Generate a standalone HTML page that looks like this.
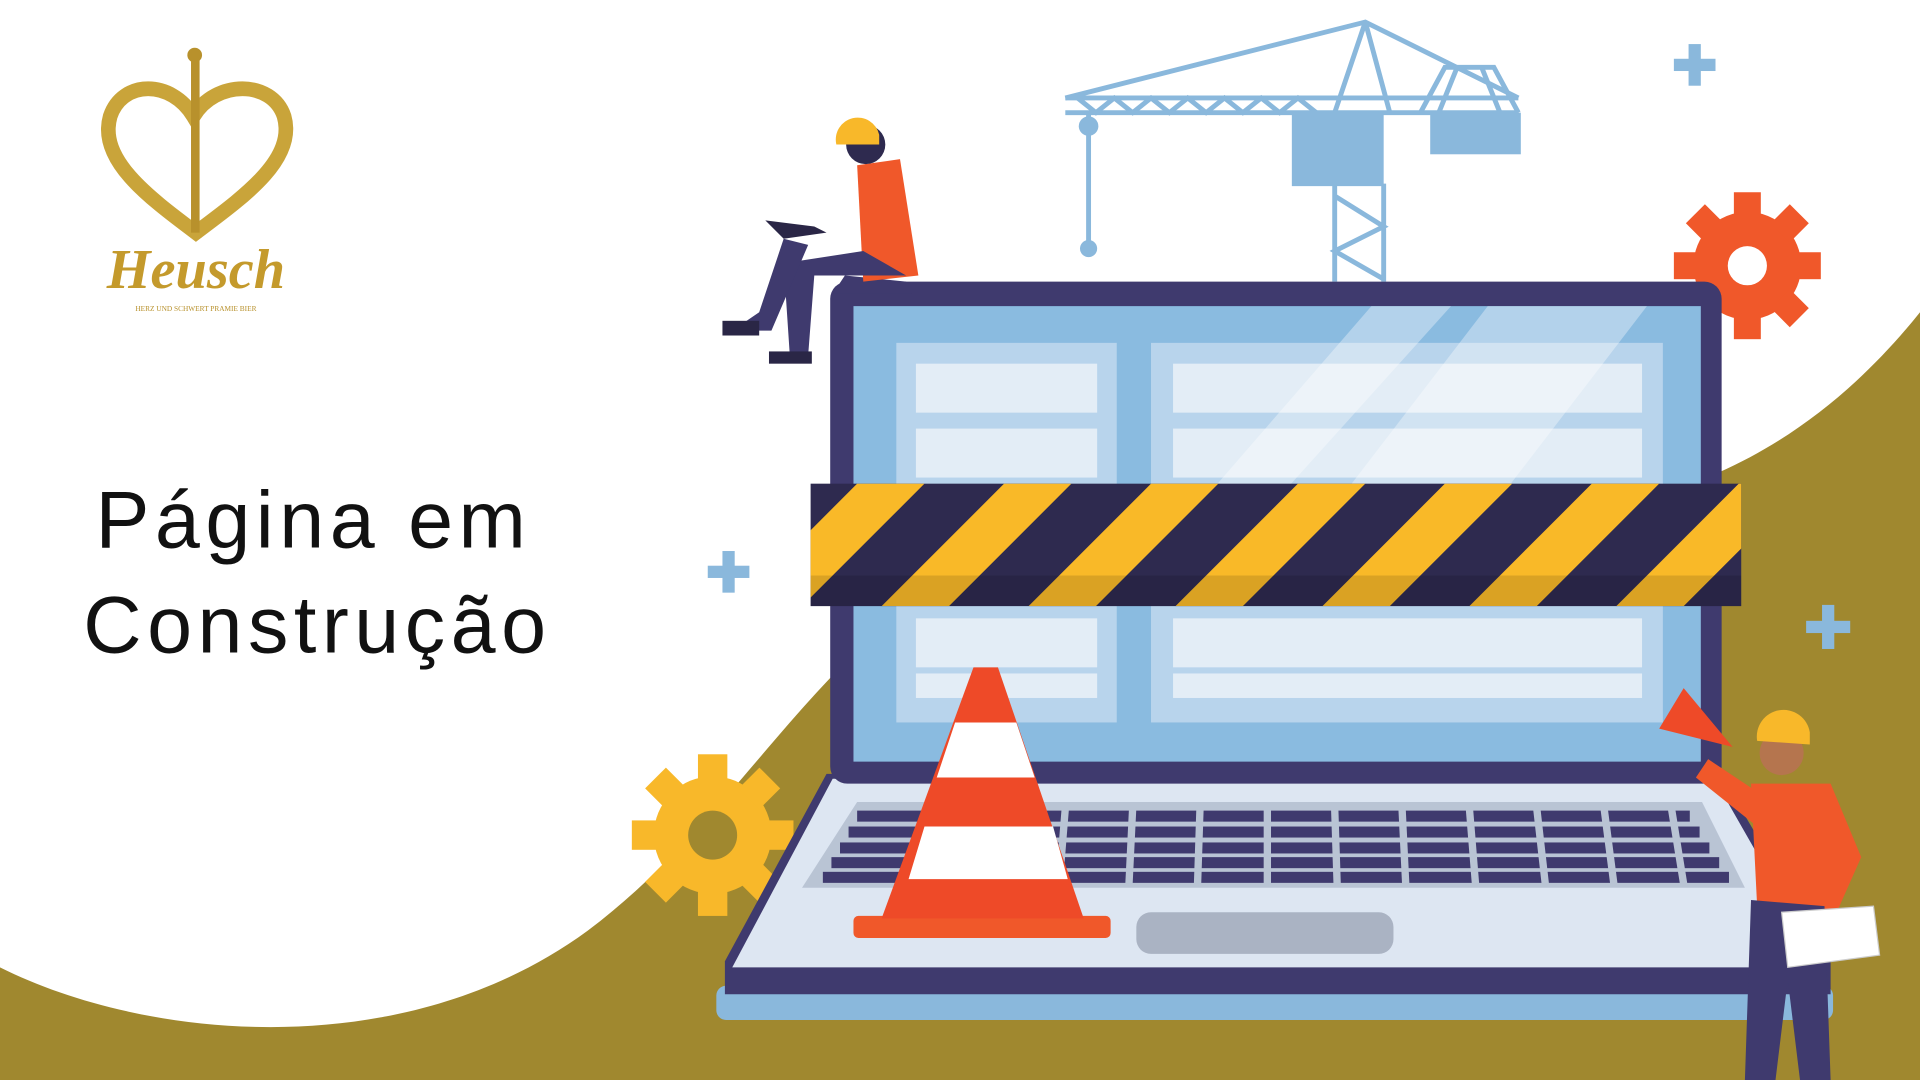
<!DOCTYPE html>
<html><head><meta charset="utf-8"><style>
html,body{margin:0;padding:0;width:1920px;height:1080px;overflow:hidden;background:#fff}
svg{display:block}
</style></head><body>
<svg width="1920" height="1080" viewBox="0 0 1568 882" xmlns="http://www.w3.org/2000/svg">
<rect width="1568" height="882" fill="#fff"/>
<path d="M0,790 C120,850 330,870 480,760 C600,670 660,540 780,470 C900,420 1100,425 1250,420 C1400,415 1500,340 1568,255 L1568,882 L0,882 Z" fill="#a0882f"/>
<g>
<path d="M160,190 C120,160 80,130 90,95 C100,65 140,65 158,95 C176,65 222,65 232,95 C242,130 200,160 160,190 Z" fill="none" stroke="#c9a43a" stroke-width="12"/>
<rect x="156" y="45" width="7" height="145" fill="#b8912c"/>
<circle cx="159" cy="45" r="6" fill="#b8912c"/>
<text x="160" y="235" font-family="Liberation Serif, serif" font-size="46" font-weight="bold" font-style="italic" fill="#c49a2c" text-anchor="middle">Heusch</text>
<text x="160" y="254" font-family="Liberation Serif, serif" font-size="6" fill="#b8912c" text-anchor="middle">HERZ UND SCHWERT PRAMIE BIER</text>
</g>
<text x="78" y="447" font-family="Liberation Sans, sans-serif" font-size="66" letter-spacing="4.5" fill="#111">Página em</text>
<text x="68" y="533" font-family="Liberation Sans, sans-serif" font-size="66" letter-spacing="4.5" fill="#111">Construção</text>
<g fill="#8ab8dc">
<rect x="1379" y="36" width="10" height="34"/><rect x="1367" y="48" width="34" height="10"/>
<rect x="590" y="450" width="10" height="34"/><rect x="578" y="462" width="34" height="10"/>
<rect x="1488" y="494" width="10" height="36"/><rect x="1475" y="507" width="36" height="10"/>
</g>
<g stroke="#8ab8dc" stroke-width="4" fill="none">
<path d="M870,80 L1240,80 M870,92 L1240,92"/>
<path d="M880,80 L895,92 L910,80 L925,92 L940,80 L955,92 L970,80 L985,92 L1000,80 L1015,92 L1030,80 L1045,92 L1060,80 L1075,92"/>
<path d="M870,80 L1115,18 L1240,80 M1115,18 L1090,92 M1115,18 L1135,92"/>
<path d="M1160,92 L1180,55 L1220,55 L1240,92 M1190,55 L1175,92 M1210,55 L1225,92"/>
<path d="M889,92 L889,200"/>
<path d="M1090,150 L1090,230 M1130,150 L1130,230 M1090,160 L1130,185 L1090,205 L1130,228"/>
</g>
<circle cx="889" cy="103" r="8" fill="#8ab8dc"/>
<circle cx="889" cy="203" r="7" fill="#8ab8dc"/>
<rect x="1055" y="92" width="75" height="60" fill="#8ab8dc"/>
<rect x="1168" y="92" width="74" height="34" fill="#8ab8dc"/>
<g fill="#f0582a" transform="translate(1427,217)">
<circle r="44"/>
<g id="t1"><rect x="-11" y="-60" width="22" height="22"/></g>
<use href="#t1" transform="rotate(45)"/><use href="#t1" transform="rotate(90)"/><use href="#t1" transform="rotate(135)"/><use href="#t1" transform="rotate(180)"/><use href="#t1" transform="rotate(225)"/><use href="#t1" transform="rotate(270)"/><use href="#t1" transform="rotate(315)"/>
<circle r="16" fill="#fff"/>
</g>
<g fill="#f8b82a" transform="translate(582,682)">
<circle r="48"/>
<g id="t2"><rect x="-12" y="-66" width="24" height="24"/></g>
<use href="#t2" transform="rotate(45)"/><use href="#t2" transform="rotate(90)"/><use href="#t2" transform="rotate(135)"/><use href="#t2" transform="rotate(180)"/><use href="#t2" transform="rotate(225)"/><use href="#t2" transform="rotate(270)"/><use href="#t2" transform="rotate(315)"/>
<circle r="20" fill="#a0882f"/>
</g>
<rect x="585" y="805" width="912" height="28" rx="8" fill="#8ab8dc"/>
<path d="M675,632 L1405,632 L1495,785 L1495,812 L592,812 L592,785 Z" fill="#3f3a6e"/>
<path d="M680,636 L1400,636 L1488,790 L598,790 Z" fill="#dde6f2"/>
<path d="M700,655 L1390,655 L1425,725 L655,725 Z" fill="#b9c4d4"/>
<g fill="#3f3a6e">
<rect x="700" y="662" width="680" height="9"/>
<rect x="693" y="675" width="695" height="9"/>
<rect x="686" y="688" width="710" height="9"/>
<rect x="679" y="700" width="725" height="9"/>
<rect x="672" y="712" width="740" height="9"/>
</g>
<g stroke="#b9c4d4" stroke-width="6">
<path d="M760,660 L750,722 M815,660 L808,722 M870,660 L865,722 M925,660 L922,722 M980,660 L978,722 M1035,660 L1035,722 M1090,660 L1092,722 M1145,660 L1148,722 M1200,660 L1205,722 M1255,660 L1262,722 M1310,660 L1318,722 M1365,660 L1375,722"/>
</g>
<rect x="928" y="745" width="210" height="34" rx="12" fill="#aab3c3"/>
<rect x="678" y="230" width="728" height="410" rx="14" fill="#3f3a6e"/>
<rect x="697" y="250" width="692" height="372" fill="#8abbe0"/>
<rect x="732" y="280" width="180" height="310" fill="#b8d4ec"/>
<rect x="940" y="280" width="418" height="310" fill="#b8d4ec"/>
<g fill="#e3edf6">
<rect x="748" y="297" width="148" height="40"/><rect x="748" y="350" width="148" height="40"/>
<rect x="748" y="505" width="148" height="40"/><rect x="748" y="550" width="148" height="20"/>
<rect x="958" y="297" width="383" height="40"/><rect x="958" y="350" width="383" height="40"/>
<rect x="958" y="505" width="383" height="40"/><rect x="958" y="550" width="383" height="20"/>
</g>
<path d="M1120,250 L1185,250 L1050,400 L990,400 Z M1215,250 L1345,250 L1230,400 L1100,400 Z" fill="#fff" opacity="0.35"/>
<defs><clipPath id="hb"><rect x="662" y="395" width="760" height="100"/></clipPath></defs>
<rect x="662" y="395" width="760" height="100" fill="#2e2a4f"/>
<g clip-path="url(#hb)" fill="#f9b928">
<path d="M600,495 L700,395 L755,395 L655,495 Z M720,495 L820,395 L875,395 L775,495 Z M840,495 L940,395 L995,395 L895,495 Z M960,495 L1060,395 L1115,395 L1015,495 Z M1080,495 L1180,395 L1235,395 L1135,495 Z M1200,495 L1300,395 L1355,395 L1255,495 Z M1320,495 L1420,395 L1475,395 L1375,495 Z"/>
<rect x="662" y="470" width="760" height="25" fill="#000" opacity="0.12"/>
</g>
<rect x="697" y="748" width="210" height="18" rx="4" fill="#f0582a"/>
<path d="M795,545 L815,545 L885,750 L720,750 Z" fill="#ee4a28"/>
<path d="M780,590 L830,590 L845,635 L765,635 Z M755,675 L860,675 L872,718 L742,718 Z" fill="#fff"/>
<path d="M680,240 L745,240 L740,230 L690,225 Z" fill="#3f3a6e"/>
<path d="M700,135 L735,130 L750,225 L705,230 Z" fill="#f0582a"/>
<path d="M705,205 L740,225 L665,225 L660,290 L645,290 L640,215 Z" fill="#3f3a6e"/>
<path d="M660,200 L630,270 L598,270 L620,255 L640,195 Z" fill="#3f3a6e"/>
<rect x="628" y="287" width="35" height="10" fill="#2a2646"/>
<rect x="590" y="262" width="30" height="12" fill="#2a2646"/>
<path d="M625,180 L640,195 L675,190 L665,185 Z" fill="#2a2646"/>
<circle cx="707" cy="118" r="16" fill="#2e2a4f"/>
<path d="M683,118 A17,17 0 0 1 718,110 L718,118 Z" fill="#f8b82a"/>
<path d="M1430,640 L1495,640 L1520,700 L1500,745 L1435,740 Z" fill="#f0582a"/>
<path d="M1430,735 L1490,740 L1495,882 L1470,882 L1460,800 L1450,882 L1425,882 Z" fill="#3f3a6e"/>
<path d="M1440,650 L1395,620 L1385,635 L1435,675 Z" fill="#f0582a"/>
<path d="M1455,745 L1530,740 L1535,780 L1460,790 Z" fill="#fff" stroke="#ccc"/>
<circle cx="1455" cy="615" r="18" fill="#b5754e"/>
<path d="M1435,605 A20,20 0 0 1 1478,598 L1478,608 Z" fill="#f8b82a"/>
<path d="M1355,595 L1375,562 L1415,610 Z" fill="#ee4a28"/>
</svg>
</body></html>
